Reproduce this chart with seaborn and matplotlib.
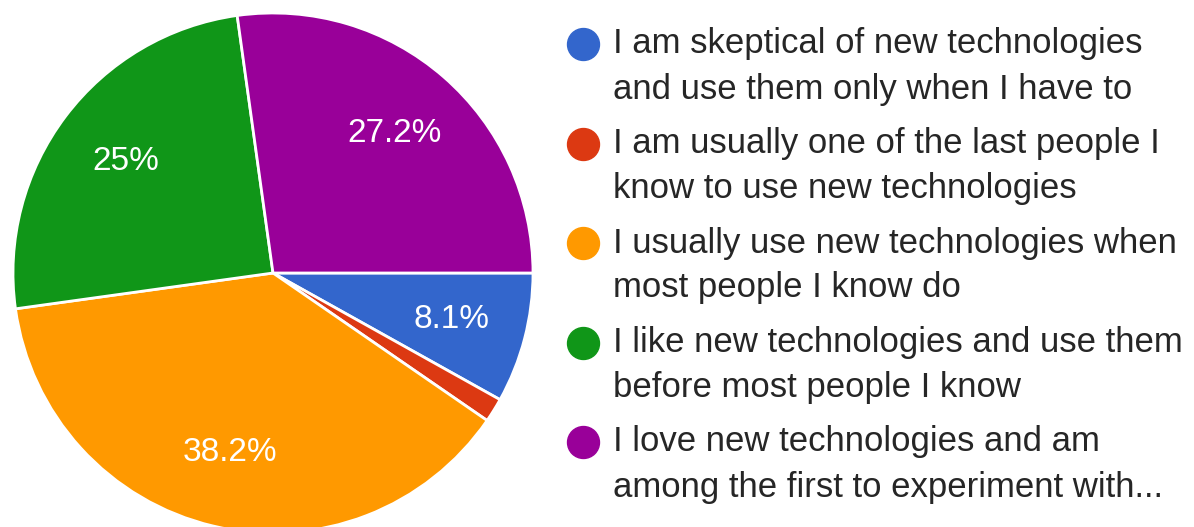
import matplotlib
matplotlib.use("Agg")
import matplotlib.pyplot as plt
import seaborn as sns

# survey answers (percent of respondents)
categories = [
    "I am skeptical of new technologies\nand use them only when I have to",
    "I am usually one of the last people I\nknow to use new technologies",
    "I usually use new technologies when\nmost people I know do",
    "I like new technologies and use them\nbefore most people I know",
    "I love new technologies and am\namong the first to experiment with...",
]
shares = [8.1, 1.5, 38.2, 25.0, 27.2]
colors = ["#3366cc", "#dc3912", "#ff9900", "#109618", "#990099"]

sns.set_theme(style="white")
plt.rcParams["font.family"] = ["Liberation Sans", "DejaVu Sans"]
palette = sns.color_palette(colors)

fig = plt.figure(figsize=(11.94, 5.27), dpi=100)

# pie area (pixel box of the circle in the 1194x527 picture)
ax = fig.add_axes([13 / 1194, -6 / 527, 520 / 1194, 520 / 527])


def pct_label(p):
    if p < 5:
        return ""
    return "{:g}%".format(round(p, 1))


wedges, texts, autotexts = ax.pie(
    shares,
    colors=palette,
    startangle=0,
    counterclock=False,
    autopct=pct_label,
    pctdistance=0.71,
    wedgeprops=dict(edgecolor="white", linewidth=2),
    textprops=dict(color="white", fontsize=24),
    radius=1.0,
)
ax.set_xlim(-1, 1)
ax.set_ylim(-1, 1)
ax.set_aspect("equal")
ax.axis("off")

# legend drawn in figure pixel space
lg = fig.add_axes([0, 0, 1, 1])
lg.set_xlim(0, 1194)
lg.set_ylim(527, 0)
lg.axis("off")
lg.patch.set_alpha(0)

y0, pitch, line_gap = 44, 99.5, 45
for i, (label, col) in enumerate(zip(categories, palette)):
    y = y0 + i * pitch
    lg.plot([583], [y], marker="o", markersize=23, color=col, linestyle="none")
    for j, line in enumerate(label.split("\n")):
        lg.text(613, y + j * line_gap, line, fontsize=25, color="#262626",
                va="center", ha="left")

fig.savefig("out.png", dpi=100)
